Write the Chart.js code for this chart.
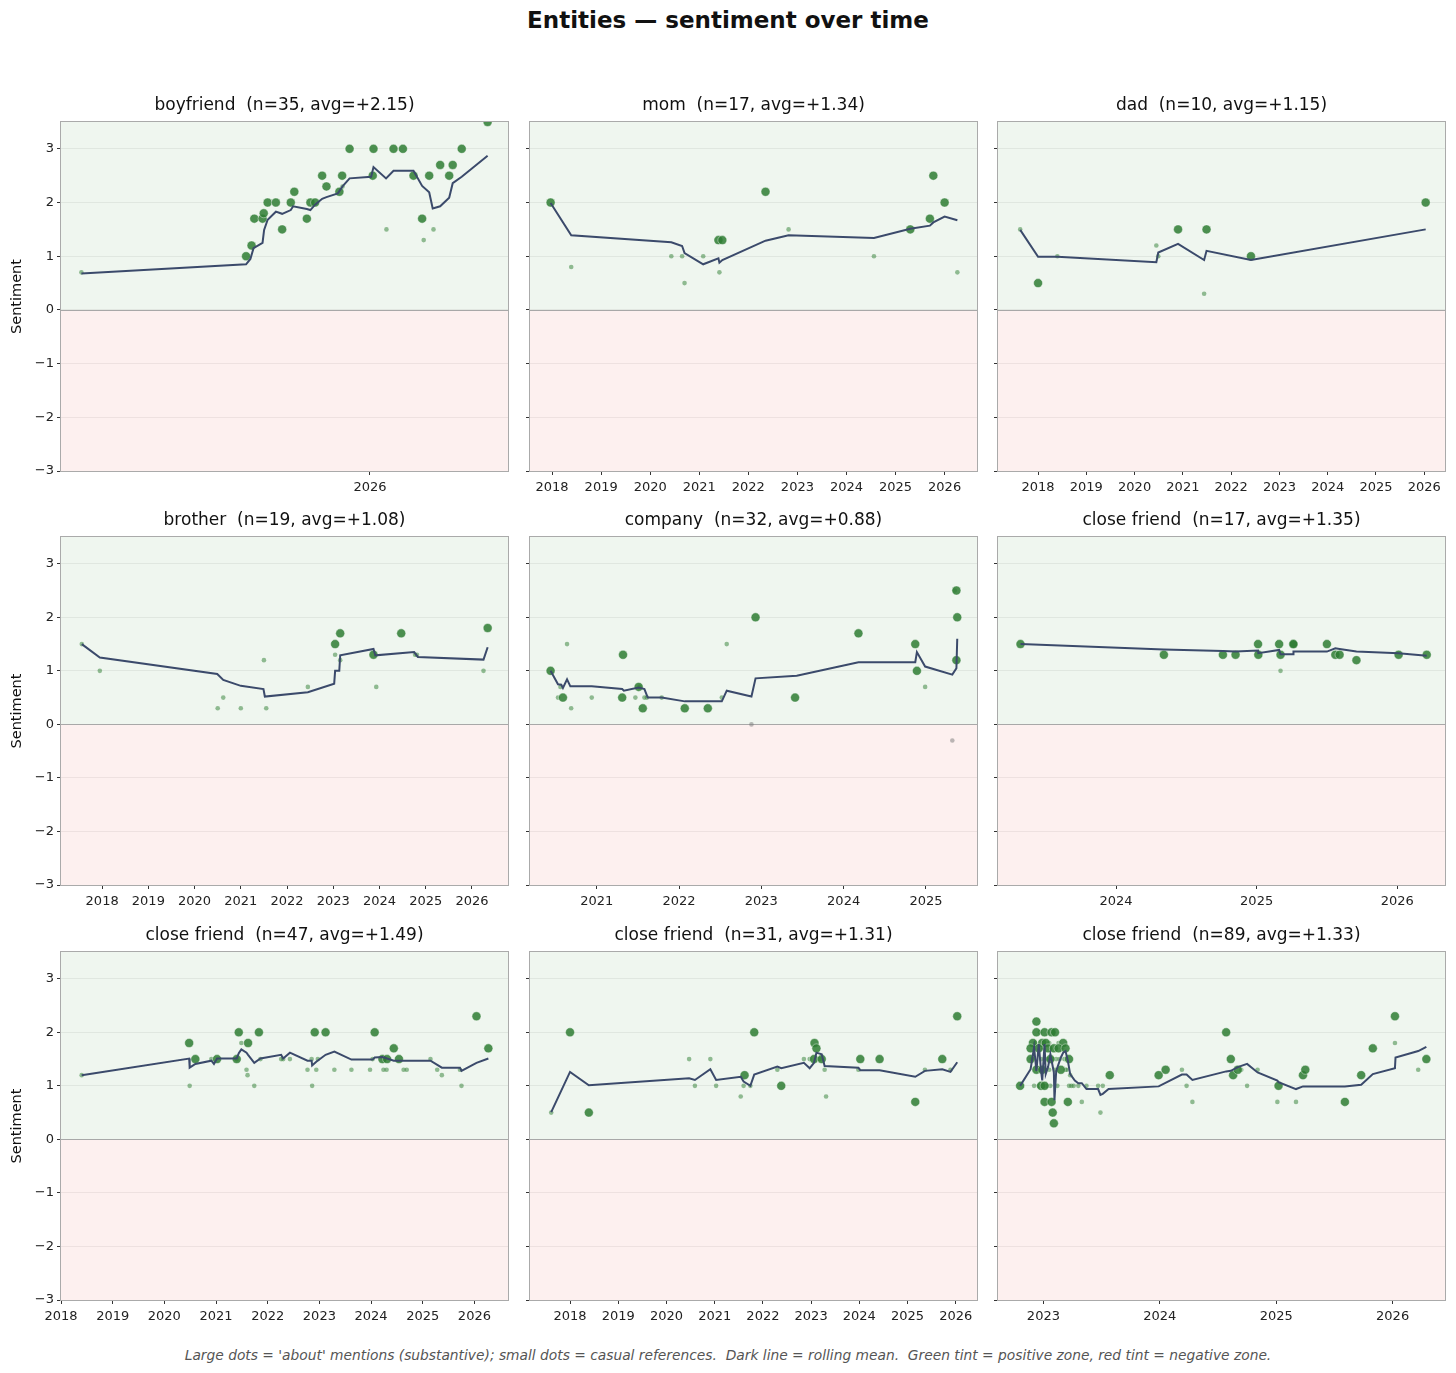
<!DOCTYPE html>
<html>
<head>
<meta charset="utf-8">
<title>Entities — sentiment over time</title>
<script src="https://cdn.jsdelivr.net/npm/chart.js@4.4.1/dist/chart.umd.min.js"></script>
<style>
    html, body { margin: 0; padding: 0; background: #fff; }
    body { width: 1456px; height: 1373px; position: relative; overflow: hidden; font-family: "DejaVu Sans", sans-serif; }
    #mainTitle { position: absolute; left: 0; top: 5px; width: 1456px; text-align: center; font-size: 23px; font-weight: bold; line-height: 30px; color: #111; }
    #footNote { position: absolute; left: 0; top: 1346px; width: 1456px; text-align: center; font-size: 13.8px; font-style: italic; line-height: 18px; color: #555; white-space: pre; }
    canvas { position: absolute; }
</style>
</head>
<body>
<div id="mainTitle">Entities — sentiment over time</div>
<div id="footNote">Large dots = 'about' mentions (substantive); small dots = casual references.  Dark line = rolling mean.  Green tint = positive zone, red tint = negative zone.</div>
<script>
// =============================================
// DATA  (decimal year, sentiment)
// =============================================

// ---- boyfriend ----
const boyfriendAbout = [
    [2025.684, 1.0], [2025.698, 1.2], [2025.705, 1.7], [2025.726, 1.7], [2025.729, 1.8],
    [2025.739, 2.0], [2025.760, 2.0], [2025.776, 1.5], [2025.798, 2.0], [2025.807, 2.2],
    [2025.839, 1.7], [2025.848, 2.0], [2025.860, 2.0], [2025.878, 2.5], [2025.889, 2.3],
    [2025.922, 2.2], [2025.929, 2.5], [2025.948, 3.0], [2026.007, 2.5], [2026.009, 3.0],
    [2026.060, 3.0], [2026.084, 3.0], [2026.111, 2.5], [2026.133, 1.7], [2026.151, 2.5],
    [2026.179, 2.7], [2026.202, 2.5], [2026.211, 2.7], [2026.234, 3.0], [2026.300, 3.5]
];
const boyfriendCasual = [
    [2025.264, 0.7], [2025.930, 2.3], [2026.042, 1.5], [2026.137, 1.3], [2026.162, 1.5]
];
const boyfriendMean = [
    [2025.264, 0.68], [2025.684, 0.85], [2025.695, 0.95], [2025.703, 1.15], [2025.726, 1.25],
    [2025.730, 1.49], [2025.739, 1.68], [2025.760, 1.83], [2025.776, 1.79], [2025.798, 1.86],
    [2025.804, 1.93], [2025.839, 1.88], [2025.848, 1.86], [2025.860, 1.96], [2025.878, 2.07],
    [2025.889, 2.10], [2025.918, 2.17], [2025.930, 2.30], [2025.948, 2.45], [2026.003, 2.48],
    [2026.009, 2.66], [2026.041, 2.45], [2026.060, 2.59], [2026.111, 2.59], [2026.133, 2.31],
    [2026.151, 2.19], [2026.160, 1.89], [2026.179, 1.93], [2026.202, 2.09], [2026.211, 2.36],
    [2026.234, 2.48], [2026.300, 2.87]
];

// ---- mom ----
const momAbout = [
    [2017.97, 2.0], [2021.39, 1.3], [2021.47, 1.3], [2022.35, 2.2],
    [2025.30, 1.5], [2025.70, 1.7], [2025.77, 2.5], [2026.00, 2.0]
];
const momCasual = [
    [2018.39, 0.8], [2020.43, 1.0], [2020.65, 1.0], [2020.70, 0.5], [2021.08, 1.0],
    [2021.41, 0.7], [2022.82, 1.5], [2024.56, 1.0], [2026.26, 0.7]
];
const momMean = [
    [2017.97, 1.99], [2018.39, 1.39], [2020.43, 1.26], [2020.65, 1.19], [2020.70, 1.06],
    [2021.08, 0.85], [2021.39, 0.96], [2021.41, 0.88], [2021.47, 0.93], [2022.35, 1.29],
    [2022.82, 1.39], [2024.56, 1.34], [2025.30, 1.51], [2025.70, 1.57], [2025.77, 1.63],
    [2026.00, 1.74], [2026.26, 1.67]
];

// ---- dad ----
const dadAbout = [
    [2018.00, 0.5], [2020.90, 1.5], [2021.49, 1.5], [2022.41, 1.0], [2026.03, 2.0]
];
const dadCasual = [
    [2017.63, 1.5], [2018.40, 1.0], [2020.45, 1.2], [2020.49, 1.0], [2021.44, 0.3]
];
const dadMean = [
    [2017.63, 1.49], [2018.00, 0.99], [2018.40, 0.99], [2020.45, 0.89], [2020.49, 1.07],
    [2020.90, 1.23], [2021.44, 0.93], [2021.49, 1.10], [2022.41, 0.93], [2026.03, 1.50]
];

// ---- brother ----
const brotherAbout = [
    [2023.04, 1.5], [2023.15, 1.7], [2023.87, 1.3], [2024.47, 1.7], [2026.34, 1.8]
];
const brotherCasual = [
    [2017.56, 1.5], [2017.95, 1.0], [2020.50, 0.3], [2020.62, 0.5], [2021.00, 0.3],
    [2021.50, 1.2], [2021.55, 0.3], [2022.45, 0.7], [2023.04, 1.3], [2023.15, 1.2],
    [2023.93, 0.7], [2024.77, 1.3], [2024.81, 1.3], [2026.25, 1.0]
];
const brotherMean = [
    [2017.56, 1.50], [2017.95, 1.25], [2020.49, 0.94], [2020.62, 0.83], [2021.00, 0.72],
    [2021.49, 0.66], [2021.52, 0.52], [2022.45, 0.60], [2023.02, 0.76], [2023.04, 1.00],
    [2023.13, 1.00], [2023.15, 1.29], [2023.87, 1.41], [2023.91, 1.29], [2024.75, 1.35],
    [2024.83, 1.26], [2026.25, 1.21], [2026.34, 1.44]
];

// ---- company ----
const companyAbout = [
    [2020.44, 1.0], [2020.59, 0.5], [2021.31, 0.5], [2021.32, 1.3], [2021.51, 0.7],
    [2021.56, 0.3], [2022.07, 0.3], [2022.35, 0.3], [2022.93, 2.0], [2023.41, 0.5],
    [2024.18, 1.7], [2024.87, 1.5], [2024.89, 1.0], [2025.37, 1.2], [2025.37, 2.5],
    [2025.38, 2.0]
];
const companyCasual = [
    [2020.53, 0.5], [2020.56, 0.7], [2020.64, 1.5], [2020.69, 0.3], [2020.94, 0.5],
    [2021.47, 0.5], [2021.52, 0.7], [2021.58, 0.5], [2021.61, 0.5], [2021.79, 0.5],
    [2022.52, 0.5], [2022.58, 1.5], [2022.88, 0.0], [2024.99, 0.7], [2025.32, -0.3],
    [2025.35, 2.5]
];
const companyMean = [
    [2020.44, 1.00], [2020.53, 0.75], [2020.57, 0.74], [2020.59, 0.68], [2020.64, 0.84],
    [2020.68, 0.71], [2020.94, 0.71], [2021.31, 0.66], [2021.33, 0.63], [2021.51, 0.69],
    [2021.58, 0.66], [2021.62, 0.50], [2021.79, 0.50], [2022.07, 0.43], [2022.52, 0.43],
    [2022.58, 0.63], [2022.88, 0.52], [2022.93, 0.86], [2023.43, 0.91], [2024.18, 1.16],
    [2024.87, 1.16], [2024.89, 1.35], [2024.99, 1.08], [2025.32, 0.93], [2025.37, 1.05],
    [2025.38, 1.60]
];

// ---- close friend (n=17) ----
const closeFriendAAbout = [
    [2023.32, 1.5], [2024.34, 1.3], [2024.76, 1.3], [2024.85, 1.3], [2025.01, 1.5],
    [2025.012, 1.3], [2025.16, 1.5], [2025.17, 1.3], [2025.26, 1.5], [2025.262, 1.5],
    [2025.50, 1.5], [2025.56, 1.3], [2025.59, 1.3], [2025.71, 1.2], [2026.01, 1.3],
    [2026.21, 1.3]
];
const closeFriendACasual = [
    [2025.17, 1.0]
];
const closeFriendAMean = [
    [2023.32, 1.50], [2024.34, 1.40], [2024.76, 1.37], [2024.85, 1.36], [2025.01, 1.38],
    [2025.012, 1.33], [2025.16, 1.39], [2025.17, 1.31], [2025.26, 1.31], [2025.262, 1.36],
    [2025.50, 1.36], [2025.56, 1.42], [2025.59, 1.41], [2025.71, 1.36], [2026.01, 1.33],
    [2026.21, 1.28]
];

// ---- close friend (n=47) ----
const closeFriendBAbout = [
    [2020.48, 1.8], [2020.60, 1.5], [2021.02, 1.5], [2021.40, 1.5], [2021.44, 2.0],
    [2021.62, 1.8], [2021.83, 2.0], [2022.91, 2.0], [2023.12, 2.0], [2024.07, 2.0],
    [2024.22, 1.5], [2024.31, 1.5], [2024.44, 1.7], [2024.54, 1.5], [2026.04, 2.3],
    [2026.27, 1.7]
];
const closeFriendBCasual = [
    [2018.40, 1.2], [2020.49, 1.0], [2020.91, 1.5], [2021.40, 1.5], [2021.49, 1.8],
    [2021.59, 1.3], [2021.61, 1.2], [2021.74, 1.0], [2021.86, 1.5], [2022.26, 1.5],
    [2022.30, 1.5], [2022.43, 1.5], [2022.77, 1.3], [2022.85, 1.5], [2022.86, 1.0],
    [2022.94, 1.3], [2022.97, 1.5], [2023.29, 1.3], [2023.62, 1.3], [2023.98, 1.3],
    [2024.03, 1.5], [2024.24, 1.3], [2024.25, 1.5], [2024.30, 1.3], [2024.63, 1.3],
    [2024.69, 1.3], [2025.15, 1.5], [2025.28, 1.3], [2025.37, 1.2], [2025.72, 1.3],
    [2025.75, 1.0]
];
const closeFriendBMean = [
    [2018.40, 1.20], [2020.48, 1.51], [2020.49, 1.34], [2020.60, 1.41], [2020.91, 1.47],
    [2020.96, 1.41], [2021.02, 1.51], [2021.40, 1.51], [2021.44, 1.61], [2021.49, 1.68],
    [2021.59, 1.62], [2021.62, 1.58], [2021.74, 1.43], [2021.86, 1.51], [2022.26, 1.58],
    [2022.30, 1.51], [2022.43, 1.62], [2022.77, 1.47], [2022.85, 1.47], [2022.86, 1.38],
    [2022.94, 1.45], [2023.12, 1.58], [2023.29, 1.64], [2023.62, 1.49], [2024.03, 1.49],
    [2024.07, 1.53], [2024.22, 1.54], [2024.31, 1.51], [2024.44, 1.47], [2025.15, 1.47],
    [2025.37, 1.34], [2025.72, 1.34], [2025.75, 1.28], [2026.04, 1.43], [2026.27, 1.51]
];

// ---- close friend (n=31) ----
const closeFriendCAbout = [
    [2018.00, 2.0], [2018.39, 0.5], [2021.62, 1.2], [2021.82, 2.0], [2022.38, 1.0],
    [2023.06, 1.5], [2023.07, 1.8], [2023.11, 1.7], [2023.22, 1.5], [2024.02, 1.5],
    [2024.42, 1.5], [2025.16, 0.7], [2025.72, 1.5], [2026.03, 2.3]
];
const closeFriendCCasual = [
    [2017.61, 0.5], [2020.47, 1.5], [2020.59, 1.0], [2020.91, 1.5], [2021.03, 1.0],
    [2021.54, 0.8], [2021.60, 1.0], [2021.74, 1.0], [2022.30, 1.3], [2022.85, 1.5],
    [2022.97, 1.5], [2023.18, 1.5], [2023.28, 1.3], [2023.31, 0.8], [2023.98, 1.3],
    [2025.36, 1.3], [2025.89, 1.3]
];
const closeFriendCMean = [
    [2017.61, 0.51], [2018.00, 1.26], [2018.39, 1.01], [2020.47, 1.14], [2020.59, 1.11],
    [2020.91, 1.31], [2021.03, 1.11], [2021.54, 1.17], [2021.60, 1.08], [2021.74, 1.00],
    [2021.82, 1.21], [2022.30, 1.36], [2022.38, 1.33], [2022.85, 1.43], [2022.97, 1.33],
    [2023.06, 1.43], [2023.11, 1.62], [2023.22, 1.59], [2023.28, 1.37], [2023.98, 1.34],
    [2024.02, 1.29], [2024.42, 1.29], [2025.16, 1.17], [2025.36, 1.28], [2025.72, 1.31],
    [2025.89, 1.26], [2026.03, 1.44]
];

// ---- close friend (n=89) ----
const closeFriendDAbout = [
    [2022.80, 1.0], [2022.94, 2.2], [2022.94, 2.0], [2023.01, 2.0], [2023.07, 2.0],
    [2023.10, 2.0], [2022.91, 1.8], [2022.99, 1.8], [2023.02, 1.8], [2023.17, 1.8],
    [2022.89, 1.7], [2022.96, 1.7], [2023.04, 1.7], [2023.09, 1.7], [2023.13, 1.7],
    [2023.19, 1.7], [2022.89, 1.5], [2023.06, 1.5], [2023.22, 1.5], [2022.94, 1.3],
    [2022.99, 1.3], [2023.15, 1.3], [2022.98, 1.0], [2023.01, 1.0], [2023.01, 0.7],
    [2023.07, 0.7], [2023.21, 0.7], [2023.08, 0.5], [2023.09, 0.3], [2023.57, 1.2],
    [2023.99, 1.2], [2024.05, 1.3], [2024.57, 2.0], [2024.61, 1.5], [2024.63, 1.2],
    [2024.67, 1.3], [2025.02, 1.0], [2025.23, 1.2], [2025.25, 1.3], [2025.59, 0.7],
    [2025.73, 1.2], [2025.83, 1.7], [2026.02, 2.3], [2026.29, 1.5]
];
const closeFriendDCasual = [
    [2022.92, 1.0], [2022.96, 1.0], [2023.22, 1.0], [2023.26, 1.0], [2023.30, 1.0],
    [2023.37, 1.0], [2023.47, 1.0], [2023.51, 1.0], [2023.33, 0.7], [2023.49, 0.5],
    [2023.19, 1.3], [2024.19, 1.3], [2024.23, 1.0], [2024.28, 0.7], [2024.75, 1.0],
    [2024.70, 1.3], [2024.84, 1.3], [2025.01, 0.7], [2025.17, 0.7], [2026.02, 1.8],
    [2026.22, 1.3], [2022.90, 1.5], [2022.93, 1.8], [2022.95, 1.3], [2022.97, 2.0],
    [2022.98, 1.5], [2023.00, 1.3], [2023.00, 1.7], [2023.03, 1.5], [2023.03, 1.0],
    [2023.05, 1.8], [2023.05, 1.3], [2023.06, 1.0], [2023.08, 1.5], [2023.08, 2.0],
    [2023.10, 1.3], [2023.11, 1.5], [2023.12, 1.0], [2023.13, 1.8], [2023.14, 1.5],
    [2023.16, 1.7], [2023.18, 1.5], [2023.20, 1.3], [2023.23, 1.2], [2023.24, 1.0]
];
const closeFriendDMean = [
    [2022.80, 1.00], [2022.89, 1.31], [2022.92, 1.72], [2022.94, 1.28], [2022.96, 1.78],
    [2022.98, 1.28], [2022.99, 1.10], [2023.01, 1.78], [2023.02, 1.22], [2023.04, 1.35],
    [2023.06, 1.59], [2023.09, 1.25], [2023.095, 0.73], [2023.11, 1.28], [2023.15, 1.53],
    [2023.17, 1.62], [2023.19, 1.65], [2023.21, 1.47], [2023.23, 1.22], [2023.27, 1.10],
    [2023.30, 1.05], [2023.33, 1.05], [2023.37, 0.94], [2023.47, 0.94], [2023.49, 0.83],
    [2023.51, 0.85], [2023.56, 0.94], [2023.99, 0.99], [2024.19, 1.21], [2024.23, 1.21],
    [2024.28, 1.11], [2024.57, 1.27], [2024.61, 1.28], [2024.67, 1.35], [2024.75, 1.41],
    [2024.84, 1.25], [2025.01, 1.10], [2025.02, 1.07], [2025.17, 0.94], [2025.23, 0.99],
    [2025.59, 0.99], [2025.73, 1.02], [2025.83, 1.22], [2026.02, 1.33], [2026.025, 1.53],
    [2026.22, 1.65], [2026.29, 1.73]
];

// ---- panel lists (reading order) ----
const PANEL_TITLES = [
    "boyfriend  (n=35, avg=+2.15)",
    "mom  (n=17, avg=+1.34)",
    "dad  (n=10, avg=+1.15)",
    "brother  (n=19, avg=+1.08)",
    "company  (n=32, avg=+0.88)",
    "close friend  (n=17, avg=+1.35)",
    "close friend  (n=47, avg=+1.49)",
    "close friend  (n=31, avg=+1.31)",
    "close friend  (n=89, avg=+1.33)"
];
const PANEL_ABOUT  = [boyfriendAbout, momAbout, dadAbout, brotherAbout, companyAbout,
                      closeFriendAAbout, closeFriendBAbout, closeFriendCAbout, closeFriendDAbout];
const PANEL_CASUAL = [boyfriendCasual, momCasual, dadCasual, brotherCasual, companyCasual,
                      closeFriendACasual, closeFriendBCasual, closeFriendCCasual, closeFriendDCasual];
const PANEL_MEAN   = [boyfriendMean, momMean, dadMean, brotherMean, companyMean,
                      closeFriendAMean, closeFriendBMean, closeFriendCMean, closeFriendDMean];

const X_RANGES = [
    [2025.212, 2026.352], [2017.55, 2026.66], [2017.17, 2026.43],
    [2017.11, 2026.78], [2020.19, 2025.62], [2023.16, 2026.34],
    [2018.00, 2026.65], [2017.17, 2026.44], [2022.61, 2026.45]
];
const X_TICKS = [
    [2026],
    [2018, 2019, 2020, 2021, 2022, 2023, 2024, 2025, 2026],
    [2018, 2019, 2020, 2021, 2022, 2023, 2024, 2025, 2026],
    [2018, 2019, 2020, 2021, 2022, 2023, 2024, 2025, 2026],
    [2021, 2022, 2023, 2024, 2025],
    [2024, 2025, 2026],
    [2018, 2019, 2020, 2021, 2022, 2023, 2024, 2025, 2026],
    [2018, 2019, 2020, 2021, 2022, 2023, 2024, 2025, 2026],
    [2023, 2024, 2025, 2026]
];
const Y_TICKS = [-3, -2, -1, 0, 1, 2, 3];
const Y_RANGE = [-3, 3.5];

// =============================================
// LAYOUT / STYLE
// =============================================

const COL_LEFT = [61, 530, 998];
const ROW_TOP  = [122, 537, 952];
const ROW_H    = [349, 348, 348];
const PLOT_W   = 447;
const Y_AXIS_W = 61;
const TITLE_H  = 40;
const X_AXIS_H = 30;
const RIGHT_PAD = 6;

const FONT = "DejaVu Sans";
const LINE_COLOR = "#3b4a6b";
const POS_FILL = "#eff6ef";
const NEG_FILL = "#fdf0ef";
const GRID_COLOR = "rgba(0,0,0,0.06)";
const SPINE_COLOR = "#aaaaaa";

Chart.defaults.font.family = FONT;

function signed(v) {
    return v < 0 ? "\u2212" + Math.abs(v) : String(v);
}

function toPoints(pairs) {
    return pairs.map(([x, y]) => ({ x, y }));
}

// green for positive, grey for zero / negative
function dotColor(alpha) {
    return ctx => (ctx.raw && ctx.raw.y > 0)
        ? `rgba(46,125,50,${alpha})`
        : `rgba(120,120,120,${alpha})`;
}

// tinted zones, zero line and frame
const zonePlugin = {
    id: "zones",
    beforeDraw(chart) {
        const { ctx, chartArea: a, scales: { y } } = chart;
        const y0 = y.getPixelForValue(0);
        ctx.save();
        ctx.fillStyle = POS_FILL;
        ctx.fillRect(a.left, a.top, a.right - a.left, y0 - a.top);
        ctx.fillStyle = NEG_FILL;
        ctx.fillRect(a.left, y0, a.right - a.left, a.bottom - y0);
        ctx.restore();
    },
    beforeDatasetsDraw(chart) {
        const { ctx, chartArea: a, scales: { y } } = chart;
        const y0 = Math.round(y.getPixelForValue(0)) + 0.5;
        ctx.save();
        ctx.strokeStyle = "#a8a8a8";
        ctx.lineWidth = 1;
        ctx.beginPath();
        ctx.moveTo(a.left, y0);
        ctx.lineTo(a.right, y0);
        ctx.stroke();
        ctx.restore();
    },
    afterDraw(chart) {
        const { ctx, chartArea: a } = chart;
        ctx.save();
        ctx.strokeStyle = SPINE_COLOR;
        ctx.lineWidth = 1;
        ctx.strokeRect(Math.round(a.left) - 0.5, Math.round(a.top) - 0.5,
                       Math.round(a.right - a.left) + 1, Math.round(a.bottom - a.top) + 1);
        ctx.restore();
    }
};

// =============================================
// BUILD THE NINE PANELS
// =============================================

PANEL_TITLES.forEach((title, i) => {

    const row = Math.floor(i / 3);
    const col = i % 3;

    const w = Y_AXIS_W + PLOT_W + RIGHT_PAD;
    const h = TITLE_H + ROW_H[row] + X_AXIS_H;

    const canvas = document.createElement("canvas");
    canvas.width = w;
    canvas.height = h;
    canvas.style.width = w + "px";
    canvas.style.height = h + "px";
    canvas.style.left = (COL_LEFT[col] - Y_AXIS_W) + "px";
    canvas.style.top = (ROW_TOP[row] - TITLE_H) + "px";
    document.body.appendChild(canvas);

    new Chart(canvas, {

        type: "scatter",

        data: {
            datasets: [
                {
                    label: "rolling mean",
                    data: toPoints(PANEL_MEAN[i]),
                    showLine: true,
                    borderColor: LINE_COLOR,
                    borderWidth: 2,
                    pointRadius: 0,
                    tension: 0,
                    order: 0,
                    clip: 0
                },
                {
                    label: "about",
                    data: toPoints(PANEL_ABOUT[i]),
                    pointRadius: 4.5,
                    pointBackgroundColor: dotColor(0.85),
                    pointBorderColor: "rgba(255,255,255,0.7)",
                    pointBorderWidth: 0.6,
                    order: 1,
                    clip: 0
                },
                {
                    label: "casual",
                    data: toPoints(PANEL_CASUAL[i]),
                    pointRadius: 2.3,
                    pointBackgroundColor: dotColor(0.5),
                    pointBorderWidth: 0,
                    order: 2,
                    clip: 0
                }
            ]
        },

        options: {
            responsive: false,
            animation: false,
            events: [],
            layout: { padding: { left: 0, right: RIGHT_PAD, top: 0, bottom: 0 } },
            plugins: {
                legend: { display: false },
                tooltip: { enabled: false },
                title: {
                    display: true,
                    text: title,
                    color: "#111",
                    fullSize: false,
                    font: { family: FONT, size: 17, weight: "normal", lineHeight: 1.2 },
                    padding: { top: 13, bottom: 6.6 }
                }
            },
            scales: {
                x: {
                    type: "linear",
                    min: X_RANGES[i][0],
                    max: X_RANGES[i][1],
                    afterBuildTicks: s => { s.ticks = X_TICKS[i].map(v => ({ value: v })); },
                    afterFit: s => { s.height = X_AXIS_H; },
                    ticks: {
                        autoSkip: false,
                        maxRotation: 0,
                        padding: 5,
                        color: "#222",
                        font: { family: FONT, size: 13 },
                        callback: v => String(v)
                    },
                    grid: { drawOnChartArea: false, drawTicks: true, tickLength: 4, tickColor: "#333" },
                    border: { display: false }
                },
                y: {
                    type: "linear",
                    min: Y_RANGE[0],
                    max: Y_RANGE[1],
                    afterBuildTicks: s => { s.ticks = Y_TICKS.map(v => ({ value: v })); },
                    afterFit: s => { s.width = Y_AXIS_W; },
                    ticks: {
                        display: col === 0,
                        padding: 3,
                        color: "#222",
                        font: { family: FONT, size: 13 },
                        callback: v => signed(v)
                    },
                    grid: { color: GRID_COLOR, drawTicks: true, tickLength: 4, tickColor: "#333" },
                    border: { display: false },
                    title: {
                        display: col === 0,
                        text: "Sentiment",
                        color: "#111",
                        font: { family: FONT, size: 14.5 },
                        padding: { top: 9, bottom: 0 }
                    }
                }
            }
        },

        plugins: [zonePlugin]

    });

});
</script>
</body>
</html>
